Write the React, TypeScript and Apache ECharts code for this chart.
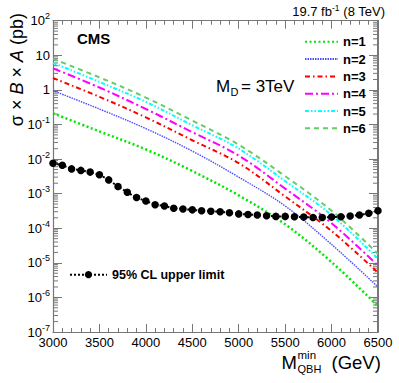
import React, { useEffect, useRef } from "react";
import * as echarts from "echarts";

const masses = [3000, 3500, 4000, 4500, 5000, 5500, 6000, 6500];
const n1 = [0.21, 0.063, 0.019, 0.0045, 0.00089, 0.00013, 1.05e-5, 5.6e-7];
const n2 = [0.95, 0.28, 0.076, 0.017, 0.003, 0.00044, 3.4e-5, 2.0e-6];
const n3 = [2.2, 0.63, 0.16, 0.035, 0.0076, 0.00083, 8.3e-5, 5.2e-6];
const n4 = [4.2, 1.17, 0.28, 0.06, 0.0126, 0.0014, 0.00014, 8.3e-6];
const n5 = [6.0, 1.7, 0.45, 0.095, 0.02, 0.0023, 0.00024, 1.3e-5];
const n6 = [7.9, 2.3, 0.6, 0.13, 0.026, 0.0032, 0.00032, 1.8e-5];

const limitMasses = [
  3000, 3100, 3200, 3300, 3400, 3500, 3600, 3700, 3800, 3900, 4000, 4100,
  4200, 4300, 4400, 4500, 4600, 4700, 4800, 4900, 5000, 5100, 5200, 5300,
  5400, 5500, 5600, 5700, 5800, 5900, 6000, 6100, 6200, 6300, 6400, 6500,
];
const limit = [
  7.6e-3, 6.6e-3, 5.2e-3, 4.7e-3, 4.2e-3, 3.5e-3, 2.5e-3, 1.6e-3, 1.1e-3,
  7.7e-4, 6.1e-4, 4.8e-4, 4.4e-4, 3.8e-4, 3.6e-4, 3.4e-4, 3.2e-4, 3.1e-4,
  3.0e-4, 2.8e-4, 2.6e-4, 2.5e-4, 2.4e-4, 2.3e-4, 2.2e-4, 2.2e-4, 2.15e-4,
  2.1e-4, 2.05e-4, 2.05e-4, 2.1e-4, 2.15e-4, 2.25e-4, 2.4e-4, 2.7e-4, 3.2e-4,
];

const xTicks = [3000, 3500, 4000, 4500, 5000, 5500, 6000, 6500];
const decades = [-7, -6, -5, -4, -3, -2, -1, 0, 1];
const minorMultipliers = [2, 3, 4, 5, 6, 7, 8, 9];

const FONT = "Liberation Sans, Arial, Helvetica, sans-serif";
const AX = "#777";

export default function App() {
  const ref = useRef<HTMLDivElement>(null);
  useEffect(() => {
    if (!ref.current) return;
    const chart = echarts.init(ref.current, undefined, { renderer: "svg" });

    const minorTicks: number[][] = [];
    decades.forEach((d) =>
      minorMultipliers.forEach((m) => minorTicks.push([xTicks[0], m * Math.pow(10, d)]))
    );

    const model = (name: string, data: number[], color: string, width: number, type: any) => ({
      name,
      type: "line",
      data: masses.map((m, i) => [m, data[i]]),
      smooth: 0.35,
      symbol: "none",
      lineStyle: { color, width, type },
      itemStyle: { color },
      z: 3,
    });

    const yLabel = (v: number) => {
      const e = Math.round(Math.log10(v));
      if (e === 0) return "1";
      if (e === 1) return "10";
      return "10{s|" + e + "}";
    };

    const option: any = {
      animation: false,
      backgroundColor: "#fff",
      textStyle: { fontFamily: FONT },
      grid: { left: 53, right: 21, top: 20.7, bottom: 51, containLabel: false },
      xAxis: [
        {
          type: "value",
          min: 3000,
          max: 6500,
          interval: 500,
          axisLine: { show: true, lineStyle: { color: AX, width: 1.2 } },
          axisTick: { show: true, inside: true, length: 8, lineStyle: { color: AX } },
          minorTick: { show: true, splitNumber: 5, length: 4, lineStyle: { color: AX } },
          splitLine: { show: false },
          axisLabel: {
            color: "#000",
            fontSize: 13,
            fontFamily: FONT,
            margin: 4,
            formatter: (v: number) => String(v),
          },
        },
        {
          type: "value",
          position: "top",
          min: 3000,
          max: 6500,
          interval: 500,
          axisLine: { show: true, lineStyle: { color: AX, width: 1.2 } },
          axisTick: { show: true, inside: true, length: 8, lineStyle: { color: AX } },
          minorTick: { show: true, splitNumber: 5, length: 4, lineStyle: { color: AX } },
          splitLine: { show: false },
          axisLabel: { show: false },
        },
      ],
      yAxis: [
        {
          type: "log",
          logBase: 10,
          min: 1e-7,
          max: 100,
          interval: 1,
          axisLine: { show: true, lineStyle: { color: AX, width: 1.2 } },
          axisTick: { show: true, inside: true, length: 9, lineStyle: { color: AX } },
          splitLine: { show: false },
          axisLabel: {
            color: "#000",
            fontSize: 13,
            fontFamily: FONT,
            margin: 3,
            lineHeight: 18,
            formatter: yLabel,
            rich: { s: { fontSize: 9, lineHeight: 9, verticalAlign: "top", fontFamily: FONT, color: "#000" } },
          },
        },
        {
          type: "log",
          logBase: 10,
          position: "right",
          min: 1e-7,
          max: 100,
          interval: 1,
          axisLine: { show: true, lineStyle: { color: AX, width: 2 } },
          axisTick: { show: true, inside: true, length: 9, lineStyle: { color: AX } },
          splitLine: { show: false },
          axisLabel: { show: false },
        },
      ],
      legend: [
        {
          orient: "vertical",
          left: 304,
          top: 35.3,
          padding: 0,
          itemWidth: 33,
          itemHeight: 14,
          itemGap: 4.3,
          itemStyle: { opacity: 0 },
          data: ["n=1", "n=2", "n=3", "n=4", "n=5", "n=6"],
          textStyle: { fontFamily: FONT, fontWeight: "bold", fontSize: 13, color: "#000" },
        },
        {
          orient: "vertical",
          left: 69,
          top: 268.2,
          padding: 0,
          itemWidth: 37,
          itemHeight: 9,
          data: ["95% CL upper limit"],
          textStyle: { fontFamily: FONT, fontWeight: "bold", fontSize: 12.5, color: "#000" },
        },
      ],
      series: [
        model("n=1", n1, "#00e600", 2.5, [2, 2.5]),
        model("n=2", n2, "#4d4dff", 1.4, [1.5, 1]),
        model("n=3", n3, "#ff0000", 2, [5, 3, 1.5, 3]),
        model("n=4", n4, "#ff00ff", 2, [8, 3, 2, 3]),
        model("n=5", n5, "#00ffff", 2, [4, 2, 1.5, 2, 1.5, 2]),
        model("n=6", n6, "#66cc66", 2, [5, 4]),
        {
          name: "95% CL upper limit",
          type: "line",
          data: limitMasses.map((m, i) => [m, limit[i]]),
          symbol: "circle",
          symbolSize: 7.5,
          showSymbol: true,
          lineStyle: { color: "#000", width: 2, type: [2, 2] },
          itemStyle: { color: "#000" },
          z: 5,
        },
        {
          type: "custom",
          silent: true,
          data: minorTicks,
          z: 1,
          clip: false,
          renderItem: (params: any, api: any) => {
            const p = api.coord([api.value(0), api.value(1)]);
            const cs = params.coordSys;
            const st = { stroke: AX, lineWidth: 1 };
            return {
              type: "group",
              children: [
                { type: "line", shape: { x1: cs.x, y1: p[1], x2: cs.x + 5, y2: p[1] }, style: st },
                { type: "line", shape: { x1: cs.x + cs.width - 5, y1: p[1], x2: cs.x + cs.width, y2: p[1] }, style: st },
              ],
            };
          },
        },
      ],
      graphic: [
        {
          type: "text",
          x: 385,
          y: 11,
          style: {
            text: "19.7 fb{s|-1} (8 TeV)",
            align: "right",
            verticalAlign: "middle",
            fontSize: 13,
            fontFamily: FONT,
            fill: "#000",
            lineHeight: 16,
            rich: { s: { fontSize: 8.5, lineHeight: 8, verticalAlign: "top", fontFamily: FONT, fill: "#000" } },
          },
        },
        {
          type: "text",
          x: 77,
          y: 38.5,
          style: { text: "CMS", fontSize: 15, fontWeight: "bold", fontFamily: FONT, fill: "#000", verticalAlign: "middle" },
        },
        {
          type: "text",
          x: 216,
          y: 86,
          style: { text: "M", fontSize: 17, fontFamily: FONT, fill: "#000", verticalAlign: "middle" },
        },
        {
          type: "text",
          x: 230.5,
          y: 91.5,
          style: { text: "D", fontSize: 11, fontFamily: FONT, fill: "#000", verticalAlign: "middle" },
        },
        {
          type: "text",
          x: 241,
          y: 86,
          style: { text: "= 3TeV", fontSize: 17, fontFamily: FONT, fill: "#000", verticalAlign: "middle" },
        },
        {
          type: "text",
          x: 17,
          y: 13,
          rotation: Math.PI / 2,
          style: {
            text: "σ × {i|B} × {i|A} (pb)",
            align: "right",
            verticalAlign: "middle",
            fontSize: 18,
            fontFamily: FONT,
            fill: "#000",
            rich: { i: { fontStyle: "italic", fontSize: 18, fontFamily: FONT, fill: "#000" } },
          },
        },
        {
          type: "text",
          x: 281.5,
          y: 362.5,
          style: { text: "M", fontSize: 18.5, fontFamily: FONT, fill: "#000", verticalAlign: "middle" },
        },
        {
          type: "text",
          x: 297.5,
          y: 354.5,
          style: { text: "min", fontSize: 11.5, fontFamily: FONT, fill: "#000", verticalAlign: "middle" },
        },
        {
          type: "text",
          x: 297.5,
          y: 369,
          style: { text: "QBH", fontSize: 11, fontFamily: FONT, fill: "#000", verticalAlign: "middle" },
        },
        {
          type: "text",
          x: 331.5,
          y: 362.5,
          style: { text: "(GeV)", fontSize: 18.5, fontFamily: FONT, fill: "#000", verticalAlign: "middle" },
        },
      ],
    };
    chart.setOption(option);
    return () => chart.dispose();
  }, []);
  return (
    <div
      ref={ref}
      style={{ position: "fixed", left: 0, top: 0, width: 399, height: 383, background: "#fff" }}
    />
  );
}
